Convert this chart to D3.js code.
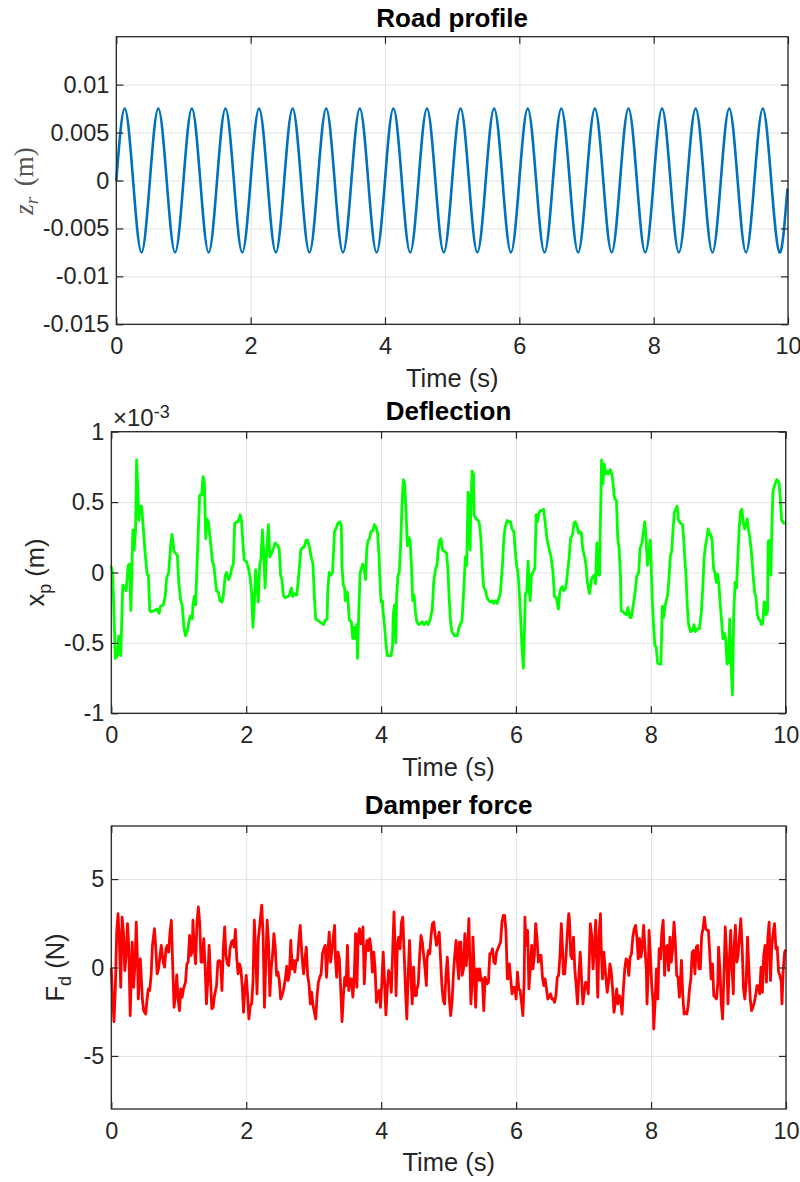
<!DOCTYPE html>
<html><head><meta charset="utf-8">
<script src="https://cdn.jsdelivr.net/npm/d3@7"></script>
<style>body{margin:0;background:#fff}svg{display:block}</style>
</head><body><svg id="c" width="800" height="1182"></svg>
<script>
// ---------- DATA ----------
const timeTicks = [0, 2, 4, 6, 8, 10];
const roadTicks = [-0.015, -0.01, -0.005, 0, 0.005, 0.01];
const deflTicks = [-1, -0.5, 0, 0.5, 1];      // ×10^-3 m
const forceTicks = [-5, 0, 5];

// Road profile z_r (m): samples at quarter periods
const roadTime = [0,0.125,0.25,0.375,0.5,0.625,0.75,0.875,1,1.125,1.25,1.375,1.5,1.625,1.75,1.875,2,2.125,2.25,2.375,2.5,2.625,2.75,2.875,3,3.125,3.25,3.375,3.5,3.625,3.75,3.875,4,4.125,4.25,4.375,4.5,4.625,4.75,4.875,5,5.125,5.25,5.375,5.5,5.625,5.75,5.875,6,6.125,6.25,6.375,6.5,6.625,6.75,6.875,7,7.125,7.25,7.375,7.5,7.625,7.75,7.875,8,8.125,8.25,8.375,8.5,8.625,8.75,8.875,9,9.125,9.25,9.375,9.5,9.625,9.75,9.875,9.99];
const roadZ = [0,0.0075,0,-0.0075,0,0.0075,0,-0.0075,0,0.0075,0,-0.0075,0,0.0075,0,-0.0075,0,0.0075,0,-0.0075,0,0.0075,0,-0.0075,0,0.0075,0,-0.0075,0,0.0075,0,-0.0075,0,0.0075,0,-0.0075,0,0.0075,0,-0.0075,0,0.0075,0,-0.0075,0,0.0075,0,-0.0075,0,0.0075,0,-0.0075,0,0.0075,0,-0.0075,0,0.0075,0,-0.0075,0,0.0075,0,-0.0075,0,0.0075,0,-0.0075,0,0.0075,0,-0.0075,0,0.0075,0,-0.0075,0,0.0075,0,-0.0075,-0.00094];

// Deflection x_p: [time (s), value ×10^-3 m]
const deflection = [[0,0.04],[0.02,0],[0.06,-0.61],[0.09,-0.59],[0.11,-0.45],[0.14,-0.59],[0.17,-0.09],[0.2,-0.11],[0.22,-0.13],[0.25,0.05],[0.27,0.06],[0.29,-0.27],[0.32,0.3],[0.34,0.16],[0.36,0.31],[0.375,0.8],[0.395,0.57],[0.41,0.37],[0.425,0.47],[0.45,0.47],[0.47,0.34],[0.5,0.15],[0.53,-0.01],[0.55,-0.02],[0.57,-0.27],[0.59,-0.28],[0.64,-0.27],[0.68,-0.26],[0.71,-0.29],[0.73,-0.24],[0.77,-0.23],[0.8,-0.17],[0.82,-0.04],[0.85,0],[0.88,0.19],[0.9,0.27],[0.93,0.15],[0.95,0.14],[0.98,0.12],[1,-0.07],[1.03,-0.2],[1.05,-0.23],[1.08,-0.4],[1.1,-0.45],[1.13,-0.41],[1.15,-0.35],[1.17,-0.31],[1.2,-0.33],[1.21,-0.24],[1.23,-0.17],[1.25,-0.23],[1.27,0.03],[1.29,0.29],[1.31,0.55],[1.34,0.55],[1.36,0.68],[1.38,0.64],[1.4,0.24],[1.42,0.38],[1.44,0.36],[1.47,0.22],[1.5,0.08],[1.52,0.05],[1.54,-0.04],[1.56,-0.13],[1.59,-0.14],[1.61,-0.2],[1.64,-0.21],[1.66,-0.17],[1.69,-0.02],[1.71,0],[1.74,-0.05],[1.76,-0.03],[1.79,0.04],[1.81,0.06],[1.83,0.35],[1.86,0.36],[1.88,0.36],[1.91,0.41],[1.93,0.37],[1.95,0.22],[1.97,0.09],[2,0.08],[2.03,0.04],[2.06,-0.04],[2.08,-0.14],[2.1,-0.39],[2.12,-0.23],[2.14,0.02],[2.16,-0.09],[2.18,-0.21],[2.2,0.05],[2.22,0.1],[2.24,0.3],[2.26,0.15],[2.28,-0.11],[2.3,0.11],[2.33,0.34],[2.35,0.11],[2.38,0.14],[2.41,0.18],[2.43,0.21],[2.47,0.19],[2.49,0.17],[2.51,-0.02],[2.53,-0.05],[2.55,-0.16],[2.58,-0.18],[2.62,-0.17],[2.64,-0.16],[2.67,-0.11],[2.69,-0.17],[2.72,-0.15],[2.75,-0.16],[2.77,-0.07],[2.8,0.1],[2.81,0.16],[2.84,0.18],[2.86,0.18],[2.89,0.23],[2.91,0.23],[2.94,0.18],[2.96,0.12],[2.99,0.06],[3.01,-0.16],[3.03,-0.33],[3.06,-0.34],[3.09,-0.35],[3.12,-0.36],[3.15,-0.37],[3.17,-0.34],[3.2,-0.33],[3.21,-0.13],[3.23,0],[3.25,-0.02],[3.28,0],[3.31,0.29],[3.33,0.31],[3.36,0.35],[3.39,0.36],[3.41,0.34],[3.42,0.05],[3.44,-0.09],[3.46,-0.11],[3.47,-0.2],[3.5,-0.14],[3.51,-0.2],[3.53,-0.34],[3.56,-0.35],[3.58,-0.47],[3.6,-0.39],[3.62,-0.47],[3.64,-0.37],[3.65,-0.61],[3.67,-0.28],[3.69,0],[3.71,0.03],[3.73,0.06],[3.75,0.03],[3.77,-0.05],[3.78,0.06],[3.79,0.18],[3.81,0.23],[3.83,0.24],[3.85,0.29],[3.88,0.3],[3.9,0.34],[3.93,0.32],[3.95,0.27],[3.97,0.12],[3.98,-0.02],[4,-0.21],[4.02,-0.2],[4.03,-0.28],[4.05,-0.37],[4.07,-0.49],[4.09,-0.59],[4.12,-0.59],[4.15,-0.59],[4.17,-0.52],[4.18,-0.3],[4.2,-0.23],[4.22,-0.5],[4.23,-0.18],[4.25,-0.02],[4.27,0],[4.29,0.19],[4.31,0.48],[4.33,0.66],[4.35,0.63],[4.37,0.43],[4.39,0.19],[4.41,0.25],[4.43,0.23],[4.45,0.05],[4.47,-0.2],[4.49,-0.16],[4.51,-0.28],[4.53,-0.35],[4.56,-0.37],[4.59,-0.36],[4.61,-0.35],[4.64,-0.37],[4.67,-0.35],[4.7,-0.37],[4.73,-0.33],[4.76,-0.26],[4.78,-0.07],[4.81,0.03],[4.83,0.05],[4.85,0.17],[4.87,0.23],[4.89,0.24],[4.91,0.16],[4.94,0.15],[4.97,0.14],[4.99,0.03],[5.01,-0.18],[5.03,-0.35],[5.05,-0.42],[5.09,-0.45],[5.13,-0.45],[5.15,-0.4],[5.18,-0.36],[5.2,-0.35],[5.23,-0.09],[5.25,0.11],[5.27,0.05],[5.29,0.57],[5.3,0.53],[5.32,0.16],[5.33,0.43],[5.35,0.72],[5.37,0.7],[5.38,0.41],[5.41,0.38],[5.44,0.37],[5.46,0.34],[5.48,0.24],[5.5,0.05],[5.52,-0.1],[5.55,-0.13],[5.57,-0.18],[5.6,-0.2],[5.62,-0.21],[5.65,-0.2],[5.67,-0.22],[5.7,-0.2],[5.72,-0.22],[5.75,-0.18],[5.77,-0.14],[5.8,0.05],[5.82,0.24],[5.84,0.32],[5.87,0.37],[5.89,0.36],[5.92,0.36],[5.94,0.31],[5.97,0.29],[5.99,0.15],[6.01,0.05],[6.03,0],[6.05,-0.14],[6.07,-0.33],[6.09,-0.54],[6.11,-0.68],[6.12,-0.52],[6.14,-0.15],[6.16,-0.14],[6.18,0.08],[6.2,-0.14],[6.21,-0.2],[6.23,-0.02],[6.25,0],[6.28,0.03],[6.3,0.41],[6.32,0.36],[6.34,0.42],[6.36,0.44],[6.39,0.44],[6.41,0.45],[6.43,0.37],[6.46,0.24],[6.5,0.15],[6.52,0.11],[6.55,0],[6.57,-0.17],[6.6,-0.18],[6.63,-0.26],[6.65,-0.14],[6.67,-0.11],[6.69,-0.1],[6.71,-0.13],[6.74,-0.11],[6.76,-0.02],[6.79,0.11],[6.81,0.24],[6.84,0.27],[6.86,0.35],[6.88,0.36],[6.9,0.34],[6.93,0.28],[6.95,0.29],[6.97,0.28],[6.99,0.17],[7.02,0.11],[7.04,0.05],[7.06,-0.07],[7.09,-0.15],[7.11,-0.09],[7.12,-0.05],[7.14,-0.03],[7.16,-0.02],[7.18,-0.08],[7.2,0.21],[7.22,-0.01],[7.24,-0.02],[7.25,0.29],[7.27,0.8],[7.29,0.63],[7.31,0.77],[7.33,0.7],[7.35,0.72],[7.37,0.7],[7.4,0.73],[7.43,0.68],[7.46,0.53],[7.49,0.51],[7.51,0.24],[7.53,0.17],[7.55,-0.02],[7.56,-0.27],[7.59,-0.28],[7.61,-0.29],[7.64,-0.3],[7.66,-0.25],[7.69,-0.32],[7.71,-0.32],[7.74,-0.23],[7.77,-0.13],[7.79,-0.03],[7.82,0],[7.84,0.17],[7.87,0.21],[7.89,0.29],[7.91,0.36],[7.93,0.24],[7.95,0.05],[7.97,0.14],[7.99,0.23],[8,0.14],[8.02,-0.18],[8.04,-0.37],[8.06,-0.52],[8.08,-0.53],[8.1,-0.64],[8.12,-0.65],[8.15,-0.65],[8.17,-0.24],[8.19,-0.32],[8.21,-0.24],[8.23,-0.2],[8.25,-0.16],[8.27,-0.04],[8.29,0.12],[8.31,0.15],[8.33,0.31],[8.35,0.43],[8.37,0.45],[8.39,0.47],[8.41,0.37],[8.44,0.35],[8.47,0.34],[8.49,0.22],[8.51,0.05],[8.52,0],[8.54,-0.23],[8.56,-0.37],[8.59,-0.42],[8.62,-0.41],[8.64,-0.37],[8.66,-0.42],[8.69,-0.4],[8.72,-0.4],[8.75,-0.28],[8.77,-0.11],[8.79,0.1],[8.81,0.19],[8.83,0.24],[8.85,0.31],[8.87,0.27],[8.89,0.27],[8.91,0.22],[8.93,0.03],[8.95,0],[8.97,-0.07],[8.99,-0.01],[9.01,-0.09],[9.03,-0.23],[9.05,-0.35],[9.07,-0.47],[9.09,-0.43],[9.11,-0.47],[9.13,-0.65],[9.15,-0.64],[9.17,-0.33],[9.19,-0.66],[9.21,-0.87],[9.23,-0.28],[9.25,-0.07],[9.27,-0.11],[9.29,0.1],[9.31,0.31],[9.33,0.43],[9.35,0.45],[9.37,0.36],[9.39,0.31],[9.41,0.34],[9.43,0.38],[9.45,0.3],[9.47,0.24],[9.49,0.15],[9.51,0.03],[9.52,-0.04],[9.54,-0.14],[9.56,-0.18],[9.58,-0.3],[9.6,-0.33],[9.62,-0.34],[9.64,-0.37],[9.66,-0.36],[9.68,-0.21],[9.69,-0.21],[9.71,-0.3],[9.73,-0.28],[9.74,0.22],[9.76,0.23],[9.78,-0.02],[9.79,0.23],[9.81,0.57],[9.83,0.61],[9.85,0.64],[9.87,0.66],[9.9,0.64],[9.92,0.53],[9.94,0.37],[9.97,0.35],[9.99,0.35]];

// Damper force F_d: [time (s), value N]
const damperForce = [[0,-0.08],[0.02,-1.78],[0.04,-3.06],[0.06,-1.21],[0.08,2],[0.1,3.04],[0.12,1.44],[0.14,-1.12],[0.16,2.85],[0.18,2],[0.2,-0.17],[0.22,0.68],[0.24,2.48],[0.26,1.06],[0.28,-2.72],[0.31,1.44],[0.33,-1.12],[0.35,0.11],[0.37,2.57],[0.39,0.11],[0.4,-1.78],[0.43,0.49],[0.44,-0.26],[0.46,-1.78],[0.48,-2.44],[0.51,-2.63],[0.53,-1.78],[0.55,-1.21],[0.57,-1.3],[0.59,-0.45],[0.61,1.25],[0.64,2.19],[0.66,1.06],[0.68,-0.36],[0.7,-0.08],[0.72,0.59],[0.74,1.25],[0.77,0.3],[0.79,0.02],[0.81,1.06],[0.83,1.25],[0.85,0.87],[0.87,2],[0.89,2.67],[0.91,0.11],[0.93,-2.25],[0.95,-1.59],[0.97,-0.42],[0.99,-1.78],[1.01,-2.44],[1.03,-1.21],[1.05,-1.68],[1.07,-1.21],[1.1,-0.83],[1.12,0.21],[1.14,0.3],[1.16,1.81],[1.18,0.68],[1.2,0.96],[1.21,2.67],[1.23,1.06],[1.25,0.21],[1.27,2.57],[1.29,3.42],[1.31,2.57],[1.33,0.3],[1.35,0.3],[1.37,1.63],[1.39,0.11],[1.41,-2.06],[1.43,-0.74],[1.45,1.25],[1.47,-0.64],[1.49,-2.34],[1.51,-2.25],[1.53,-1.59],[1.56,-1.02],[1.58,0.34],[1.6,0.4],[1.62,0.3],[1.64,-1.3],[1.66,1.06],[1.68,2.29],[1.7,0.68],[1.72,0.21],[1.74,0.11],[1.76,1.06],[1.78,1.44],[1.8,1.53],[1.82,1.15],[1.84,2.15],[1.86,0.49],[1.88,-0.36],[1.9,0.21],[1.92,-0.08],[1.94,-1.02],[1.96,-2.53],[1.98,-1.21],[2,-0.45],[2.02,-1.59],[2.04,-2.91],[2.06,-2.15],[2.08,-2.06],[2.1,-0.83],[2.12,2.67],[2.14,0.87],[2.16,-1.49],[2.18,1.63],[2.21,2.76],[2.23,3.52],[2.25,1.81],[2.27,-2.25],[2.29,0.3],[2.31,2.67],[2.33,1.44],[2.35,-1.59],[2.37,-0.08],[2.39,0.68],[2.41,1.91],[2.43,1.15],[2.45,-0.45],[2.47,-0.26],[2.49,-0.74],[2.51,-1.78],[2.53,-1.59],[2.55,-1.3],[2.58,-0.64],[2.6,0.08],[2.62,-0.74],[2.64,-0.36],[2.66,1.53],[2.68,-0.08],[2.7,0.4],[2.72,-0.26],[2.74,0.4],[2.76,0.4],[2.78,1.53],[2.8,2.38],[2.81,1.63],[2.83,0.49],[2.85,-0.36],[2.87,0.49],[2.89,1.15],[2.91,-0.45],[2.93,-0.93],[2.95,-2.06],[2.97,-1.4],[2.99,-2.15],[3.01,-2.53],[3.03,-2.91],[3.05,-1.59],[3.07,-0.83],[3.09,-0.55],[3.11,-0.36],[3.13,0.78],[3.15,1.06],[3.17,1.25],[3.19,-0.55],[3.21,0.87],[3.23,2],[3.25,0.3],[3.27,0.96],[3.29,1.72],[3.31,2.38],[3.32,0.68],[3.34,-0.55],[3.36,0.87],[3.38,0.49],[3.4,-1.21],[3.42,-3.06],[3.44,-1.59],[3.46,-0.55],[3.48,-1.02],[3.5,1.25],[3.52,-1.3],[3.54,-0.64],[3.56,-0.64],[3.58,-1.68],[3.6,-0.64],[3.62,1.91],[3.64,-1.12],[3.66,1.81],[3.68,2.19],[3.7,1.34],[3.72,1.63],[3.73,2.29],[3.75,-0.93],[3.77,0.87],[3.79,1.53],[3.81,0.96],[3.83,1.63],[3.85,1.06],[3.87,-0.26],[3.89,0.87],[3.91,-0.08],[3.93,-1.97],[3.95,-1.49],[3.97,-1.3],[3.99,-2.25],[4.01,-0.83],[4.03,0.87],[4.05,-0.83],[4.07,-2.68],[4.09,-1.21],[4.11,-0.17],[4.13,-0.45],[4.15,-1.4],[4.17,0.87],[4.19,3.14],[4.21,0.68],[4.22,-1.59],[4.24,1.25],[4.26,1.72],[4.28,1.06],[4.3,2.57],[4.32,2.85],[4.34,0.87],[4.36,-1.21],[4.38,-2.91],[4.4,-0.45],[4.42,1.53],[4.44,-0.45],[4.46,-2.06],[4.48,0.02],[4.5,-1.59],[4.52,-1.59],[4.53,-1.21],[4.55,-0.93],[4.57,0.68],[4.59,1.81],[4.61,1.44],[4.63,0.68],[4.65,-0.08],[4.67,-1.02],[4.68,0.49],[4.7,0.96],[4.72,0.78],[4.74,1.81],[4.76,2.48],[4.78,2.57],[4.8,1.81],[4.82,1.25],[4.84,1.63],[4.86,2],[4.88,0.49],[4.9,-1.02],[4.92,-1.87],[4.94,-2.06],[4.96,-0.45],[4.98,0.59],[4.99,-0.08],[5.01,-1.78],[5.03,-2.72],[5.05,-1.97],[5.07,-0.45],[5.09,0.68],[5.11,1.53],[5.13,0.3],[5.15,-0.64],[5.16,1.44],[5.18,1.44],[5.2,-0.45],[5.22,-0.08],[5.24,1.91],[5.26,0.11],[5.28,1.06],[5.3,2.76],[5.31,1.06],[5.33,-2.06],[5.35,-0.64],[5.36,1.72],[5.38,-0.26],[5.4,-2.25],[5.42,-0.08],[5.44,-0.74],[5.46,-0.08],[5.48,-0.74],[5.5,-0.64],[5.52,-2.44],[5.54,-0.55],[5.56,-0.83],[5.57,-0.93],[5.59,-0.83],[5.61,0.78],[5.63,0.78],[5.65,1.06],[5.67,0.3],[5.69,0.21],[5.71,0.87],[5.73,1.06],[5.75,1.25],[5.77,1.44],[5.79,2.57],[5.81,2.95],[5.83,2.95],[5.85,2],[5.87,-0.64],[5.88,-0.64],[5.9,0.21],[5.92,-0.64],[5.94,-1.49],[5.96,-1.12],[5.98,-1.12],[6,-1.78],[6.02,-0.26],[6.04,-1.21],[6.06,-1.3],[6.08,-1.97],[6.1,-2.72],[6.12,-0.64],[6.13,2.85],[6.15,1.25],[6.17,2.1],[6.19,-1.21],[6.21,-0.08],[6.23,1.25],[6.25,-0.08],[6.27,0.68],[6.29,2.48],[6.31,1.63],[6.33,0.3],[6.35,0.68],[6.37,0.68],[6.39,-0.55],[6.41,-1.02],[6.43,-0.64],[6.45,-1.21],[6.47,-1.78],[6.49,-1.68],[6.51,-1.49],[6.53,-1.78],[6.55,-1.78],[6.57,-1.97],[6.59,-1.59],[6.61,-0.55],[6.63,-0.45],[6.65,0.68],[6.67,2.48],[6.69,0.87],[6.7,-0.36],[6.72,-0.36],[6.74,0.68],[6.76,2],[6.78,3.04],[6.79,2.76],[6.81,0.68],[6.83,0.49],[6.85,1.72],[6.87,-0.08],[6.89,-1.02],[6.91,-2.06],[6.93,-0.45],[6.95,0.87],[6.97,-0.64],[6.99,-2.06],[7.01,-1.4],[7.03,-0.83],[7.05,-0.93],[7.07,-1.49],[7.09,1.25],[7.1,2.48],[7.12,1.81],[7.14,-0.08],[7.16,1.06],[7.18,2.67],[7.2,-0.45],[7.21,-1.68],[7.23,1.81],[7.25,3.04],[7.26,1.15],[7.28,-0.64],[7.3,0.87],[7.32,-0.08],[7.35,-1.4],[7.37,-0.83],[7.39,0.21],[7.41,-0.26],[7.43,-1.21],[7.45,-2.53],[7.47,-1.97],[7.49,-1.21],[7.51,-2.06],[7.53,-1.59],[7.55,-1.78],[7.57,-2.63],[7.59,-1.21],[7.61,-0.08],[7.63,0.49],[7.65,0.4],[7.67,-0.45],[7.69,0.59],[7.71,0.78],[7.73,1.72],[7.75,2.19],[7.77,2.38],[7.79,1.72],[7.81,0.49],[7.83,1.63],[7.85,0.59],[7.87,1.15],[7.89,2.38],[7.91,1.06],[7.93,-0.08],[7.94,-2.06],[7.96,-0.08],[7.97,2.1],[7.99,0.68],[8.01,-1.02],[8.03,-1.97],[8.04,-3.48],[8.06,-1.97],[8.08,-0.08],[8.1,-1.78],[8.12,1.06],[8.14,0.49],[8.16,2],[8.18,2.67],[8.2,-0.45],[8.22,1.15],[8.24,1.25],[8.26,-0.17],[8.28,1.72],[8.3,0.3],[8.32,1.06],[8.34,2.57],[8.36,1.44],[8.38,-0.45],[8.4,-0.55],[8.42,-1.68],[8.44,-0.45],[8.45,0.4],[8.47,-1.59],[8.49,-2.63],[8.51,-2.53],[8.53,-2.63],[8.55,-2.15],[8.57,-1.21],[8.59,-0.64],[8.61,0.87],[8.63,0.96],[8.65,-0.36],[8.67,1.15],[8.69,1.25],[8.71,-0.08],[8.73,-0.08],[8.75,1.81],[8.77,2.19],[8.79,2.85],[8.81,2.19],[8.83,2.1],[8.85,2.1],[8.87,0.78],[8.89,-0.64],[8.91,0.21],[8.93,-1.59],[8.95,-1.68],[8.97,-1.78],[8.99,-0.83],[9,1.15],[9.02,-0.08],[9.04,-1.97],[9.06,-2.91],[9.08,-0.45],[9.1,2.29],[9.12,0.68],[9.14,-2.06],[9.16,0.3],[9.18,2.1],[9.2,-0.08],[9.22,-1.49],[9.23,1.06],[9.25,2.38],[9.27,0.3],[9.29,0.68],[9.31,1.72],[9.33,2.76],[9.35,1.15],[9.37,-1.21],[9.39,-1.78],[9.41,-0.83],[9.43,1.72],[9.45,-0.08],[9.47,-1.78],[9.49,-2.44],[9.51,-2.25],[9.53,-1.97],[9.55,-1.59],[9.57,-1.02],[9.59,-1.02],[9.61,-1.49],[9.63,0.02],[9.65,-1.4],[9.67,0.68],[9.69,1.25],[9.71,-0.83],[9.73,1.63],[9.75,2.57],[9.77,-0.74],[9.79,1.25],[9.81,2],[9.83,2.48],[9.85,1.06],[9.87,1.15],[9.89,-0.26],[9.91,-0.45],[9.93,-0.83],[9.94,-2.06],[9.96,-0.08],[9.98,0.87],[9.99,0.96]];

// ---------- DRAWING ----------
const FONT = "'Liberation Sans', Arial, Helvetica, sans-serif";
const AXC = "#262626", GRID = "#e3e3e3";
const TICK_FS = 23.5, LABEL_FS = 25.5, TITLE_FS = 26;
const svg = d3.select("#c");
svg.append("rect").attr("width", 800).attr("height", 1182).attr("fill", "#fff");

function panel(cfg) {
  const x = d3.scaleLinear().domain([0, 10]).range([cfg.left, cfg.right]);
  const y = d3.scaleLinear().domain(cfg.yDomain).range([cfg.bottom, cfg.top]);
  const g = svg.append("g");
  const W = cfg.right - cfg.left, H = cfg.bottom - cfg.top;

  // grid
  g.append("g").attr("transform", `translate(0,${cfg.bottom})`)
    .call(d3.axisBottom(x).tickValues(timeTicks).tickSize(-H).tickFormat(""))
    .call(s => { s.select(".domain").remove(); s.selectAll("line").attr("stroke", GRID); });
  g.append("g").attr("transform", `translate(${cfg.left},0)`)
    .call(d3.axisLeft(y).tickValues(cfg.yTicks).tickSize(-W).tickFormat(""))
    .call(s => { s.select(".domain").remove(); s.selectAll("line").attr("stroke", GRID); });

  // data line
  const line = d3.line().x(d => x(d[0])).y(d => y(d[1])).curve(cfg.curve || d3.curveLinear);
  g.append("path").datum(cfg.data).attr("d", line)
    .attr("fill", "none").attr("stroke", cfg.color).attr("stroke-width", cfg.lw)
    .attr("stroke-linejoin", "round").attr("stroke-linecap", "round");

  // axes with inward ticks on all sides
  const styleAx = s => {
    s.select(".domain").remove();
    s.selectAll("line").attr("stroke", AXC).attr("stroke-width", 1.2);
    s.selectAll("text").attr("fill", AXC).attr("font-family", FONT).attr("font-size", TICK_FS);
  };
  g.append("g").attr("transform", `translate(0,${cfg.bottom})`)
    .call(d3.axisBottom(x).tickValues(timeTicks).tickSize(-7).tickPadding(13.5).tickFormat(d3.format("d"))).call(styleAx);
  g.append("g").attr("transform", `translate(0,${cfg.top})`)
    .call(d3.axisTop(x).tickValues(timeTicks).tickSize(-7).tickFormat("")).call(styleAx);
  g.append("g").attr("transform", `translate(${cfg.left},0)`)
    .call(d3.axisLeft(y).tickValues(cfg.yTicks).tickSize(-7).tickPadding(cfg.ypad).tickFormat(cfg.fmt)).call(styleAx);
  g.append("g").attr("transform", `translate(${cfg.right},0)`)
    .call(d3.axisRight(y).tickValues(cfg.yTicks).tickSize(-7).tickFormat("")).call(styleAx);

  g.append("rect").attr("x", cfg.left).attr("y", cfg.top).attr("width", W).attr("height", H)
    .attr("fill", "none").attr("stroke", AXC).attr("stroke-width", 1.3);

  // title
  g.append("text").attr("x", (cfg.left + cfg.right) / 2).attr("y", cfg.titleY)
    .attr("text-anchor", "middle").attr("font-family", FONT).attr("font-weight", "bold")
    .attr("font-size", TITLE_FS).attr("fill", "#000").text(cfg.title);
  // x label
  g.append("text").attr("x", (cfg.left + cfg.right) / 2).attr("y", cfg.xlabY)
    .attr("text-anchor", "middle").attr("font-family", FONT)
    .attr("font-size", LABEL_FS).attr("fill", AXC).text("Time (s)");
  return { x, y, g };
}

const fmtRoad = v => v === 0 ? "0" : String(+v.toFixed(3));
const fmtPlain = v => String(v);

// Panel 1: Road profile
const p1 = panel({ left: 116.3, right: 788, top: 36.7, bottom: 324.3, yDomain: [-0.015, 0.015],
  yTicks: roadTicks, fmt: fmtRoad, ypad: 7, data: roadTime.map((t, i) => [t, roadZ[i]]),
  curve: d3.curveNatural, color: "#0072BD", lw: 2.6, title: "Road profile", titleY: 26.7, xlabY: 387 });
// y-label (LaTeX style)
{
  const t = svg.append("text").attr("transform", "translate(33,181) rotate(-90)")
    .attr("text-anchor", "middle").attr("font-family", "'Liberation Serif','DejaVu Serif',serif")
    .attr("font-size", 27).attr("fill", "#555");
  t.append("tspan").attr("font-style", "italic").text("z");
  t.append("tspan").attr("font-style", "italic").attr("font-size", 19).attr("dy", 5).text("r");
  t.append("tspan").attr("dy", -5).text("\u2009\u2009(m)");
}

// Panel 2: Deflection
const p2 = panel({ left: 111.3, right: 785.7, top: 431.7, bottom: 713.3, yDomain: [-1, 1],
  yTicks: deflTicks, fmt: fmtPlain, ypad: 7, data: deflection,
  color: "#00FF00", lw: 2.8, title: "Deflection", titleY: 419.5, xlabY: 775.5 });
{
  const t = svg.append("text").attr("transform", "translate(43.5,572.5) rotate(-90)")
    .attr("text-anchor", "middle").attr("font-family", FONT).attr("font-size", LABEL_FS).attr("fill", AXC);
  t.append("tspan").text("x");
  t.append("tspan").attr("font-size", 18).attr("dy", 7).text("p");
  t.append("tspan").attr("dy", -7).text(" (m)");
  const e = svg.append("text").attr("x", 113).attr("y", 425.5).attr("font-family", FONT)
    .attr("font-size", 24).attr("fill", AXC);
  e.append("tspan").text("\u00d710");
  e.append("tspan").attr("font-size", 18).attr("dy", -8).text("-3");
}

// Panel 3: Damper force
const p3 = panel({ left: 111.3, right: 786, top: 826, bottom: 1109, yDomain: [-8, 8],
  yTicks: forceTicks, fmt: fmtPlain, ypad: 7, data: damperForce,
  color: "#FF0000", lw: 2.8, title: "Damper force", titleY: 814, xlabY: 1171 });
{
  const t = svg.append("text").attr("transform", "translate(63.5,967.5) rotate(-90)")
    .attr("text-anchor", "middle").attr("font-family", FONT).attr("font-size", LABEL_FS).attr("fill", AXC);
  t.append("tspan").text("F");
  t.append("tspan").attr("font-size", 18).attr("dy", 7).text("d");
  t.append("tspan").attr("dy", -7).text(" (N)");
}
</script></body></html>
